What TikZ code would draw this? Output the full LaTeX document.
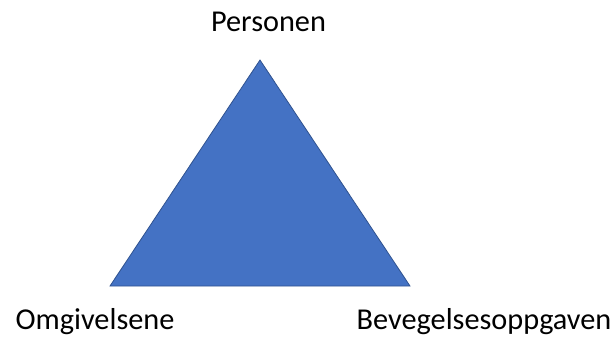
\documentclass[tikz,border=0pt]{standalone}
\usepackage{fontspec}
\setmainfont{Carlito}
\definecolor{trifill}{HTML}{4472C4}
\definecolor{triline}{HTML}{2F528F}
\begin{document}
\begin{tikzpicture}[x=1pt,y=-1pt,
  lbl/.style={font=\fontsize{30.3}{36}\selectfont, inner sep=0pt, anchor=base, text=black}]
\useasboundingbox (0,0) rectangle (614,337);
\coordinate (top) at (260,60);
\coordinate (bl) at (110,286);
\coordinate (br) at (410,286);
\fill[trifill] (top) -- (bl) -- (br) -- cycle;
\draw[triline, line width=0.8pt, line join=miter] (top) -- (bl) -- (br) -- cycle;
\node[lbl] (pers) at (268.5,32) {Personen};
\node[lbl] (omg) at (95,329.5) {Omgivelsene};
\node[lbl] (bev) at (484,329.5) {Bevegelsesoppgaven};
\end{tikzpicture}
\end{document}
